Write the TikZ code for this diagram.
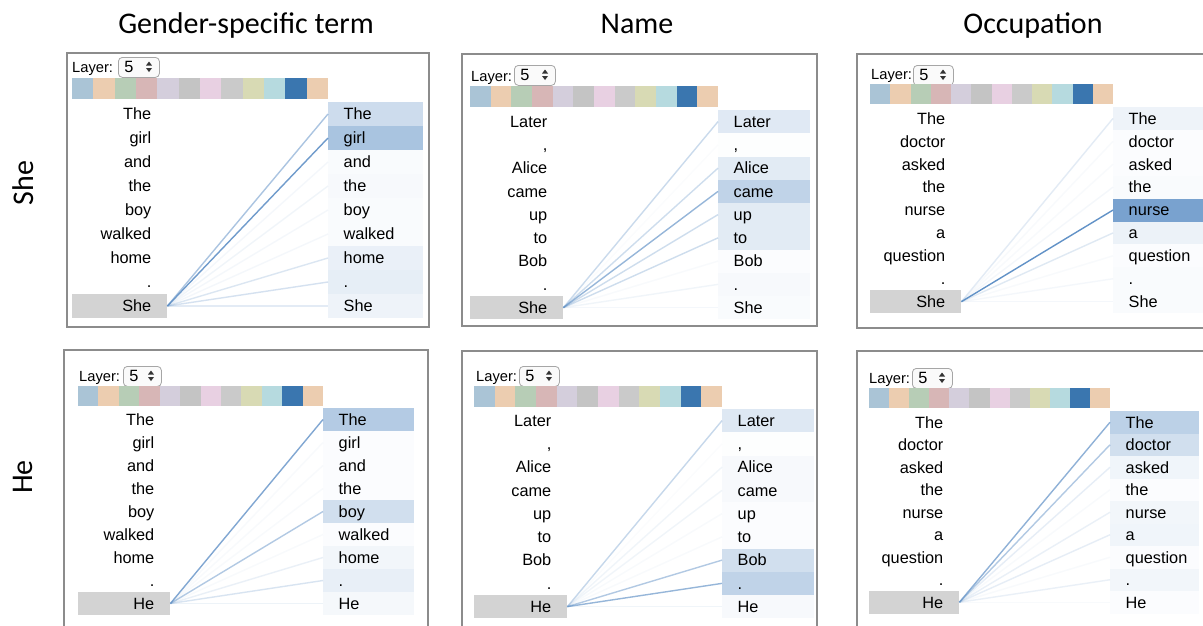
\documentclass[tikz,border=0pt]{standalone}
\usepackage{fontspec}
\setmainfont{Liberation Sans}
\newfontfamily\calibrifont{Carlito}
\definecolor{attn}{RGB}{46,110,180}
\definecolor{framegray}{RGB}{140,140,140}
\definecolor{qgray}{RGB}{211,211,211}
\definecolor{hc1}{RGB}{170,196,214}
\definecolor{hc2}{RGB}{236,205,176}
\definecolor{hc3}{RGB}{183,205,182}
\definecolor{hc4}{RGB}{215,182,182}
\definecolor{hc5}{RGB}{212,206,220}
\definecolor{hc6}{RGB}{196,196,196}
\definecolor{hc7}{RGB}{232,208,226}
\definecolor{hc8}{RGB}{202,202,202}
\definecolor{hc9}{RGB}{216,218,180}
\definecolor{hc10}{RGB}{182,218,223}
\definecolor{hc11}{RGB}{58,118,175}
\definecolor{hc12}{RGB}{236,205,176}
\tikzset{
  frame/.style={draw=framegray, line width=1.5pt, fill=white},
  word/.style={inner sep=0pt, font=\fontsize{16.3}{19}\selectfont},
  laytext/.style={inner sep=0pt, font=\fontsize{14.7}{17}\selectfont},
  rbox/.style={draw=none, inner sep=0pt, anchor=west},
  qbox/.style={fill=qgray, draw=none, inner sep=0pt, anchor=west},
  conn/.style={draw=attn!75!white, line width=1.4pt},
  hdr/.style={inner sep=0pt, font=\calibrifont\fontsize{30}{36}\selectfont},
  spin/.style={draw=black!35, fill=black!2, rounded corners=4pt, line width=0.8pt, inner sep=0pt, anchor=north west},
}
% \ctrl{layer x}{layer y}{spin x0}{spin y0}{spin x1}{bar x0}{bar y0}{bar x1}{bar y1}
\newcommand\ctrl[9]{%
  \node[laytext, anchor=base west] (\pN-layer) at (#1,{#2+5}) {Layer:};
  \pgfmathsetmacro\pSW{#5-#3}
  \node[spin, minimum width=\pSW pt, minimum height=20pt] (\pN-spin) at (#3,#4) {};
  \node[word, anchor=base] (\pN-five) at ({#3+11},{#4+15.5}) {5};
  \fill[black!80] ({#5-13},{#4+8.5}) -- ({#5-7},{#4+8.5}) -- ({#5-10},{#4+4.5}) -- cycle;
  \fill[black!80] ({#5-13},{#4+11}) -- ({#5-7},{#4+11}) -- ({#5-10},{#4+15}) -- cycle;
  \foreach \k in {1,...,12}{
    \pgfmathsetmacro\pCA{#6+(\k-1)*(#8-#6)/12}
    \pgfmathsetmacro\pCB{#6+\k*(#8-#6)/12}
    \fill[fill=hc\k] (\pCA,#7) rectangle (\pCB,#9);
  }
}
% \setpanel{name}{rowtop}{rowheight}{q x0}{q x1}{r x0}{r x1}
\newcommand\setpanel[7]{%
  \def\pRT{#2}\def\pRH{#3}\def\pLA{#4}\def\pLB{#5}\def\pRA{#6}\def\pRB{#7}%
  \pgfmathsetmacro\pQY{#2+8.5*#3}
  \pgfmathsetmacro\pQW{#5-#4}
  \node[qbox, minimum width=\pQW pt, minimum height=#3pt] (#1-q) at (#4,\pQY) {};
}
% \tok{index}{word}{weight}
\newcommand\tok[3]{%
  \pgfmathsetmacro\pYC{\pRT+(#1-0.5)*\pRH}
  \pgfmathsetmacro\pRW{\pRB-\pRA}
  \pgfmathsetmacro\pOP{min(1,#3/45)}
  \pgfmathsetmacro\pLX{\pLB-15.5}
  \pgfmathsetmacro\pTX{\pRA+15.5}
  \pgfmathsetmacro\pBY{\pYC+5.8}
  \node[rbox, fill=attn!#3!white, minimum width=\pRW pt, minimum height=\pRH pt] (\pN-r#1) at (\pRA,\pYC) {};
  \draw[conn, draw opacity=\pOP] (\pN-q.east) -- (\pN-r#1.west);
  \node[word, anchor=base east] (\pN-lw#1) at (\pLX,\pBY) {#2};
  \node[word, anchor=base west] (\pN-rw#1) at (\pTX,\pBY) {#2};
}
\begin{document}
\begin{tikzpicture}[x=1pt,y=-1pt]
\clip (0,0) rectangle (1203,625);
\fill[white] (0,0) rectangle (1203,625);
% headers
\node[hdr, anchor=base] (h1) at (246,33) {Gender-specific term};
\node[hdr, anchor=base] (h2) at (637,33) {Name};
\node[hdr, anchor=base] (h3) at (1033,33) {Occupation};
\node[hdr, rotate=90] (v1) at (23,183) {She};
\node[hdr, rotate=90] (v2) at (23,477) {He};
% ---------- She / Gender
\def\pN{sg}
\draw[frame] (67,53) rectangle (429,327);
\ctrl{72}{67}{118}{57}{159}{72}{78}{328}{99}
\setpanel{sg}{102}{24}{72}{167}{328}{423}
\tok{1}{The}{24}
\tok{2}{girl}{41}
\tok{3}{and}{3}
\tok{4}{the}{4}
\tok{5}{boy}{3}
\tok{6}{walked}{3}
\tok{7}{home}{10}
\tok{8}{.}{12}
\tok{9}{She}{8}
% ---------- She / Name
\def\pN{sn}
\draw[frame] (462,54) rectangle (817,326);
\ctrl{471}{76}{514}{65}{555}{470}{86}{718}{107}
\setpanel{sn}{110}{23.25}{470}{563}{718}{810}
\tok{1}{Later}{15}
\tok{2}{,}{1}
\tok{3}{Alice}{14}
\tok{4}{came}{30}
\tok{5}{up}{14}
\tok{6}{to}{14}
\tok{7}{Bob}{2}
\tok{8}{.}{4}
\tok{9}{She}{3}
% ---------- She / Occupation
\def\pN{so}
\draw[frame] (857,54) rectangle (1215,328);
\ctrl{871}{74}{913}{65}{953}{870}{84}{1113}{104}
\setpanel{so}{107}{22.9}{870}{961}{1113}{1215}
\tok{1}{The}{8}
\tok{2}{doctor}{2}
\tok{3}{asked}{2}
\tok{4}{the}{3}
\tok{5}{nurse}{64}
\tok{6}{a}{9}
\tok{7}{question}{2}
\tok{8}{.}{3}
\tok{9}{She}{3}
% ---------- He / Gender
\def\pN{hg}
\draw[frame] (64,350) rectangle (428,640);
\ctrl{79}{376}{123}{366}{161}{78}{386}{323}{406}
\setpanel{hg}{408}{23}{78}{170}{323}{414}
\tok{1}{The}{36}
\tok{2}{girl}{2}
\tok{3}{and}{2}
\tok{4}{the}{2}
\tok{5}{boy}{22}
\tok{6}{walked}{2}
\tok{7}{home}{6}
\tok{8}{.}{11}
\tok{9}{He}{5}
% ---------- He / Name
\def\pN{hn}
\draw[frame] (462,351) rectangle (817,640);
\ctrl{476}{376}{519}{366}{559}{474}{386}{722}{407}
\setpanel{hn}{409}{23.25}{474}{567}{722}{814}
\tok{1}{Later}{16}
\tok{2}{,}{1}
\tok{3}{Alice}{4}
\tok{4}{came}{4}
\tok{5}{up}{2}
\tok{6}{to}{2}
\tok{7}{Bob}{22}
\tok{8}{.}{30}
\tok{9}{He}{4}
% ---------- He / Occupation
\def\pN{ho}
\draw[frame] (857,351) rectangle (1215,640);
\ctrl{869}{378}{912}{368}{952}{869}{388}{1110}{408}
\setpanel{ho}{411}{22.5}{869}{959}{1110}{1199}
\tok{1}{The}{32}
\tok{2}{doctor}{22}
\tok{3}{asked}{7}
\tok{4}{the}{2}
\tok{5}{nurse}{6}
\tok{6}{a}{7}
\tok{7}{question}{2}
\tok{8}{.}{6}
\tok{9}{He}{2}
\end{tikzpicture}
\end{document}
